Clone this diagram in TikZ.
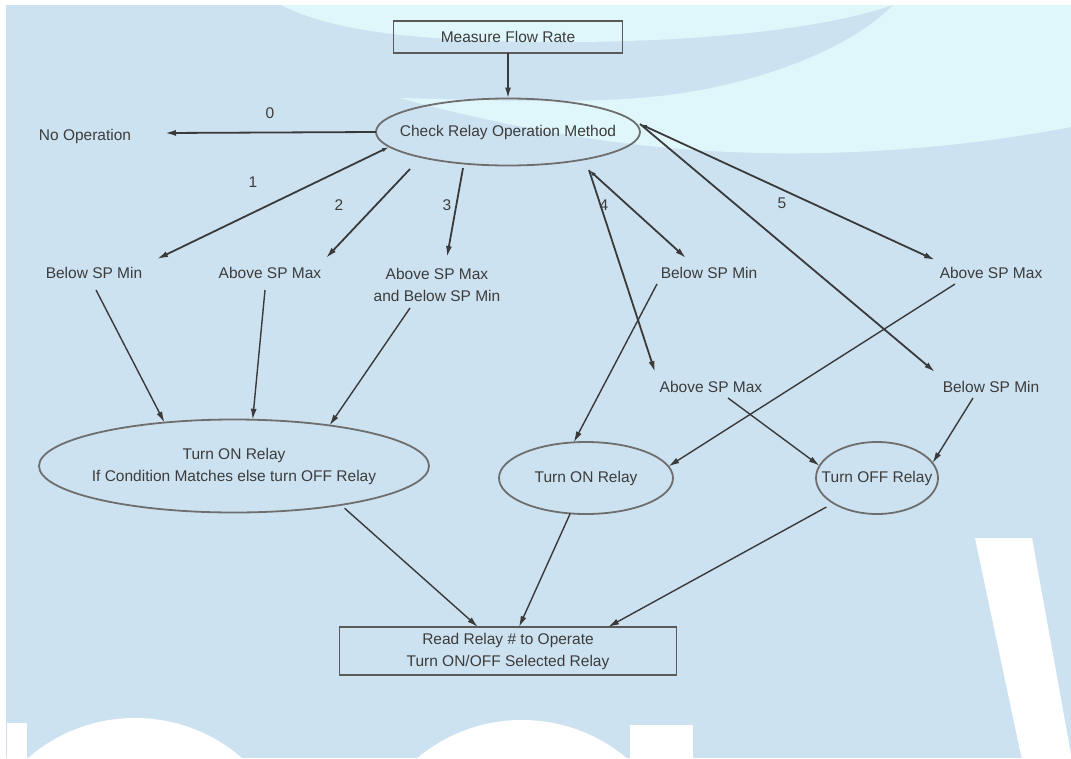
\documentclass[tikz,border=0pt]{standalone}
\usepackage{fontspec}
\setmainfont{Liberation Sans}
\usetikzlibrary{arrows.meta,shapes.geometric}
\definecolor{bgblue}{HTML}{CDE2F0}
\definecolor{lightc}{HTML}{DFF6FA}
\definecolor{linec}{HTML}{3A3A3A}
\definecolor{ellc}{HTML}{6E6E6E}
\definecolor{boxc}{HTML}{5A5A5A}
\definecolor{txtc}{HTML}{3C3C3C}
\begin{document}
\begin{tikzpicture}[x=1pt,y=-1pt,
  txt/.style={inner sep=0pt, text=txtc, font=\fontsize{15.5}{22}\selectfont, align=center},
  ell/.style={ellipse, draw=ellc, line width=1.8pt, inner sep=0pt, outer sep=0pt, text=txtc, font=\fontsize{15.5}{22}\selectfont},
  boxn/.style={rectangle, draw=boxc, line width=1.6pt, inner sep=2pt, outer sep=0pt, text=txtc, font=\fontsize{15.5}{22}\selectfont, align=center},
  arr/.style={draw=linec, line width=1.8pt, -{Latex[length=11pt,width=6pt]}},
  arrs/.style={draw=linec, line width=1.8pt, {Latex[length=7pt,width=4pt]}-{Latex[length=11pt,width=6pt]}},
  arrb/.style={draw=linec, line width=1.4pt, -{Latex[length=11pt,width=6pt]}},
  lbl/.style={inner sep=0pt, text=txtc, font=\fontsize{15.5}{18}\selectfont}]
\useasboundingbox (0,0) rectangle (1071,758);
% background and watermark
\fill[white] (0,0) rectangle (1071,758);
\begin{scope}
  \clip (6,5) rectangle (1071,758);
  \fill[bgblue] (6,5) rectangle (1071,758);
  \fill[lightc] (281,5) .. controls (320,25) and (380,36) .. (470,40)
      .. controls (600,46) and (790,40) .. (893,5) -- cycle;
  \fill[lightc] (400,98) .. controls (480,100) and (580,104) .. (650,97)
      .. controls (750,88) and (850,50) .. (893,5) -- (1071,5) -- (1071,127)
      .. controls (950,150) and (800,162) .. (650,146)
      .. controls (550,136) and (450,112) .. (400,98) -- cycle;
  \fill[white] (7,723) rectangle (27,760);
  \fill[white] (135,881) circle[radius=163];
  \fill[white] (522,883) circle[radius=163];
  \fill[white] (630,725) rectangle (693,760);
  \fill[white] (975,538) -- (1032,538) -- (1072,760) -- (1022,760) -- cycle;
\end{scope}

% nodes
\node[boxn, minimum width=229pt, minimum height=32pt] (mfr) at (508,37) {Measure Flow Rate};
\node[ell, minimum width=264pt, minimum height=67pt] (chk) at (508,132) {\makebox[0pt]{Check Relay Operation Method}};
\node[txt] (noop) at (85,136) {No Operation};

\node[txt] (bmin1) at (94,273) {Below SP Min};
\node[txt] (amax2) at (270,273) {Above SP Max};
\node[txt] (amax3) at (437,285) {Above SP Max\\and Below SP Min};
\node[txt] (bmin4) at (709,273) {Below SP Min};
\node[txt] (amax5) at (991,273) {Above SP Max};
\node[txt] (amax4) at (711,387) {Above SP Max};
\node[txt] (bmin5) at (991,387) {Below SP Min};

\node[ell, minimum width=390pt, minimum height=93pt] (bigE) at (234,466)
  {\makebox[0pt]{\begin{tabular}{@{}c@{}}Turn ON Relay\\If Condition Matches else turn OFF Relay\end{tabular}}};
\node[ell, minimum width=174pt, minimum height=72pt] (onE) at (586,478) {\makebox[0pt]{Turn ON Relay}};
\node[ell, minimum width=122pt, minimum height=72pt] (offE) at (877,478) {\makebox[0pt]{Turn OFF Relay}};

\node[boxn, minimum width=337pt, minimum height=48pt] (bot) at (508,651) {Read Relay \# to Operate\\Turn ON/OFF Selected Relay};

% labels
\node[lbl] (l0) at (270,113) {0};
\node[lbl] (l1) at (253,182) {1};
\node[lbl] (l2) at (339,205) {2};
\node[lbl] (l3) at (447,205) {3};
\node[lbl] (l4) at (604,205) {4};
\node[lbl] (l5) at (782,203) {5};

% connector end coordinates
\coordinate (c1s) at (389,147);
\coordinate (c2s) at (410,169);
\coordinate (c3s) at (463,168);
\coordinate (c4s) at (589,170);
\coordinate (c5s) at (640,124);
\coordinate (n0) at (165,133);
\coordinate (t1) at (157,259);
\coordinate (t2) at (326,258);
\coordinate (t3) at (447,257);
\coordinate (t4a) at (686,258);
\coordinate (t4b) at (655,372);
\coordinate (t5a) at (935,260);
\coordinate (t5b) at (935,372);
\coordinate (s1) at (96,290);
\coordinate (s2) at (265,290);
\coordinate (s3) at (410,308);
\coordinate (s4) at (657,284);
\coordinate (s5) at (955,284);
\coordinate (s4b) at (728,398);
\coordinate (s5b) at (973,398);

% connectors
\draw[arr] (mfr.south) -- (chk.north);
\draw[arr] (chk.west) -- (n0);
\draw[arrs] (c1s) -- (t1);
\draw[arr] (c2s) -- (t2);
\draw[arr] (c3s) -- (t3);
\draw[arrs] (c4s) -- (t4a);
\draw[arr] (c4s) -- (t4b);
\draw[arrs] (c5s) -- (t5a);
\draw[arr] (c5s) -- (t5b);

\draw[arrb] (s1) -- (bigE.148);
\draw[arrb] (s2) -- (bigE.68);
\draw[arrb] (s3) -- (bigE.23);
\draw[arrb] (s4) -- (onE.109);
\draw[arrb] (s5) -- (onE.8);
\draw[arrb] (s4b) -- (offE.168);
\draw[arrb] (s5b) -- (offE.15);

\draw[arrb, shorten <=5pt] (bigE.-20) -- ([xshift=-30pt]bot.north);
\draw[arrb] (onE.246) -- ([xshift=11pt]bot.north);
\draw[arrb, shorten <=8pt] (offE.210) -- ([xshift=100pt]bot.north);
\end{tikzpicture}
\end{document}
